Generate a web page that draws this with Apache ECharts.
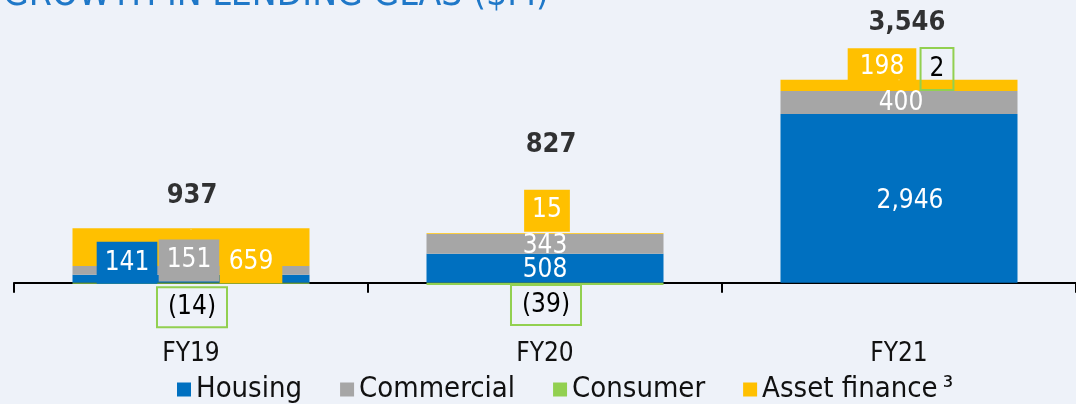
<!DOCTYPE html>
<html>
<head>
<meta charset="utf-8">
<script src="https://cdn.jsdelivr.net/npm/echarts@6/dist/echarts.min.js"></script>
<style>
  html, body { margin: 0; padding: 0; background: #eef2f9; }
  #main { width: 1076px; height: 404px; }
</style>
</head>
<body>
<div id="main"></div>
<script>
const years = ['FY19', 'FY20', 'FY21'];
const housing = [141, 508, 2946];
const commercial = [151, 343, 400];
const consumer = [-14, -39, 2];
const assetFinance = [659, 15, 198];
const totals = [937, 827, 3546];

const FONT = '"DejaVu Sans Condensed", "DejaVu Sans", sans-serif';
const BLUE = '#0070c0', GREY = '#a6a6a6', GREEN = '#92d050', GOLD = '#ffc000';

// where each value label sits relative to its segment (px)
const shifts = {
    housing: [[-64, -16], [0, 2], [11, 3]],
    commercial: [[-2, -10], [0, 2], [2, 1]],
    consumer: [[1, 24], [1, 21], [38, -22]],
    asset: [[60, 15], [2, -23], [-17, -18]],
    total: [[1, -33], [6, -90], [8, -57]]
};
// box padding per label, where the label has a box
const pads = {
    housing: [[6, 8]],
    commercial: [[6, 8]],
    consumer: [[5, 11], [5, 11], [6, 9]],
    asset: [[6, 9], [6, 8], [4, 12]]
};

function fmt(v) {
    let s = Math.abs(v).toLocaleString('en-US');
    return v < 0 ? '(' + s + ')' : s;
}

// only some segments get a coloured box
function items(values, key, box) {
    return values.map((v, i) => {
        let label = { offset: shifts[key][i] };
        if (pads[key][i]) Object.assign(label, box, { padding: pads[key][i] });
        return { value: v, label: label };
    });
}

const baseLabel = {
    show: true,
    position: 'inside',
    color: '#fff',
    fontFamily: FONT,
    fontSize: 26,
    lineHeight: 30,
    formatter: p => fmt(p.value)
};

function bar(name, color, data) {
    return {
        name: name,
        type: 'bar',
        stack: 'lending',
        barWidth: 237,
        itemStyle: { color: color },
        label: baseLabel,
        data: data
    };
}

let myChart = echarts.init(document.getElementById('main'));

let option = {
    backgroundColor: '#eef2f9',
    title: {
        text: 'GROWTH IN LENDING GLAS ($M)',
        left: -2,
        top: -28,
        textStyle: { color: '#1f78c8', fontFamily: FONT, fontSize: 37, fontWeight: 'normal' }
    },
    grid: { left: 14, right: -5, top: 25, bottom: 92.5 },
    legend: {
        bottom: -5,
        left: 172,
        icon: 'rect',
        itemWidth: 14,
        itemHeight: 14,
        itemGap: 38,
        textStyle: { fontFamily: FONT, fontSize: 29, color: '#111' },
        formatter: name => name === 'Asset finance' ? 'Asset finance\u2009\u00b3' : name,
        data: ['Housing', 'Commercial', 'Consumer', 'Asset finance']
    },
    xAxis: {
        type: 'category',
        data: years,
        axisLine: { lineStyle: { color: '#000', width: 2 } },
        axisTick: { show: true, length: 10, lineStyle: { color: '#000', width: 2 } },
        axisLabel: { margin: 30, color: '#111', fontFamily: FONT, fontSize: 26 }
    },
    yAxis: {
        type: 'value',
        min: -500,
        max: 4500,
        show: false,
        splitLine: { show: false }
    },
    series: [
        bar('Housing', BLUE, items(housing, 'housing', { backgroundColor: BLUE })),
        bar('Commercial', GREY, items(commercial, 'commercial', { backgroundColor: GREY })),
        bar('Consumer', GREEN, items(consumer, 'consumer',
            { color: '#000', borderColor: GREEN, borderWidth: 2 })),
        bar('Asset finance', GOLD, items(assetFinance, 'asset', { backgroundColor: GOLD })),
        {
            name: 'Total',
            type: 'scatter',
            symbolSize: 1,
            itemStyle: { color: '#eef2f9' },
            silent: true,
            label: {
                show: true,
                position: 'inside',
                formatter: p => '{t|' + fmt(p.value) + '}',
                rich: {
                    t: { color: '#000', fontFamily: FONT, fontSize: 27, fontWeight: 'bold' }
                }
            },
            data: totals.map((v, i) => ({ value: v, label: { offset: shifts.total[i] } }))
        }
    ]
};

myChart.setOption(option);
</script>
</body>
</html>
